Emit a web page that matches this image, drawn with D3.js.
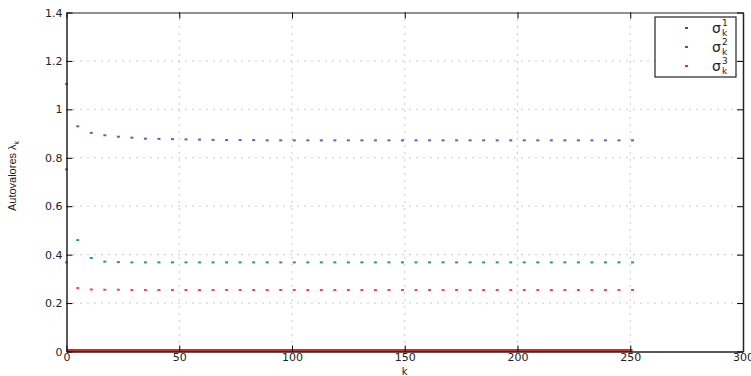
<!DOCTYPE html>
<html>
<head>
<meta charset="utf-8">
<script src="https://cdn.jsdelivr.net/npm/d3@7"></script>
<style>
  body { margin: 0; background: #fff; }
  svg { display: block; font-family: 'DejaVu Sans', sans-serif; }
</style>
</head>
<body>
<div id="chart"></div>
<script>
// k positions of the plotted samples
const kValues = [0, 5, 11, 17, 23, 29, 35, 41, 47, 53, 59, 65, 71, 77, 83, 89, 95, 101, 107, 113,
  119, 125, 131, 137, 143, 149, 155, 161, 167, 173, 179, 185, 191, 197, 203, 209, 215, 221, 227,
  233, 239, 245, 251];

// eigenvalue series
const sigma1 = [0.752, 0.930, 0.903, 0.893, 0.887, 0.883, 0.879, 0.878, 0.877, 0.876, 0.875, 0.874,
  0.873, 0.873, 0.873, 0.872, 0.872, 0.872, 0.872, 0.872, 0.872, 0.872, 0.872, 0.872, 0.872, 0.872,
  0.872, 0.872, 0.872, 0.872, 0.872, 0.872, 0.872, 0.872, 0.872, 0.872, 0.872, 0.872, 0.872, 0.872,
  0.872, 0.872, 0.872];
const sigma2 = [1.105, 0.460, 0.386, 0.371, 0.369, 0.368, 0.368, 0.368, 0.368, 0.368, 0.368, 0.368,
  0.368, 0.368, 0.368, 0.368, 0.368, 0.368, 0.368, 0.368, 0.368, 0.368, 0.368, 0.368, 0.368, 0.368,
  0.368, 0.368, 0.368, 0.368, 0.368, 0.368, 0.368, 0.368, 0.368, 0.368, 0.368, 0.368, 0.368, 0.368,
  0.368, 0.368, 0.368];
const sigma3 = [0.368, 0.262, 0.256, 0.255, 0.255, 0.254, 0.254, 0.254, 0.254, 0.254, 0.254, 0.254,
  0.254, 0.254, 0.254, 0.254, 0.254, 0.254, 0.254, 0.254, 0.254, 0.254, 0.254, 0.254, 0.254, 0.254,
  0.254, 0.254, 0.254, 0.254, 0.254, 0.254, 0.254, 0.254, 0.254, 0.254, 0.254, 0.254, 0.254, 0.254,
  0.254, 0.254, 0.254];
// red trace lying on the x axis
const zeroLine = [0, 251];

const xTicks = [0, 50, 100, 150, 200, 250, 300];
const yTicks = [0, 0.2, 0.4, 0.6, 0.8, 1, 1.2, 1.4];
const seriesNames = ['1', '2', '3'];
const seriesColors = ['#2f4fb4', '#008c48', '#ee2a2a'];

const width = 751, height = 376;
const margin = { top: 12.5, right: 8, bottom: 24.5, left: 66.5 };
const innerW = width - margin.left - margin.right;
const innerH = height - margin.top - margin.bottom;

const svg = d3.select('#chart').append('svg')
  .attr('width', width)
  .attr('height', height);

const g = svg.append('g')
  .attr('transform', `translate(${margin.left},${margin.top})`);

const x = d3.scaleLinear().domain([0, 300]).range([0, innerW]);
const y = d3.scaleLinear().domain([0, 1.4]).range([innerH, 0]);

// grid
g.append('g').selectAll('line')
  .data(xTicks.slice(1, -1))
  .enter().append('line')
  .attr('x1', d => x(d)).attr('x2', d => x(d))
  .attr('y1', 0).attr('y2', innerH)
  .attr('stroke', '#999').attr('stroke-width', 1)
  .attr('stroke-dasharray', '1,6');
g.append('g').selectAll('line')
  .data(yTicks.slice(1, -1))
  .enter().append('line')
  .attr('x1', 0).attr('x2', innerW)
  .attr('y1', d => y(d)).attr('y2', d => y(d))
  .attr('stroke', '#999').attr('stroke-width', 1)
  .attr('stroke-dasharray', '1,6');

// red trace on the axis
g.append('line')
  .attr('x1', x(zeroLine[0])).attr('x2', x(zeroLine[1]))
  .attr('y1', y(0) - 1).attr('y2', y(0) - 1)
  .attr('stroke', '#d42a2a').attr('stroke-width', 3);

// dots
const allSeries = [sigma1, sigma2, sigma3];
allSeries.forEach((vals, si) => {
  g.append('g').selectAll('rect')
    .data(vals.map((v, i) => ({ k: kValues[i], v })))
    .enter().append('rect')
    .attr('x', d => x(d.k) - 1.5)
    .attr('y', d => y(d.v) - 1)
    .attr('width', 3)
    .attr('height', 2)
    .attr('fill', seriesColors[si])
    .attr('fill-opacity', 0.85);
});

// axes (MATLAB style: box, inward ticks on all sides)
const tickLen = 6;
const tickFont = a => a.selectAll('text')
  .attr('font-size', 11).attr('fill', '#222')
  .attr('font-family', "'DejaVu Sans', sans-serif");
g.append('g')
  .attr('transform', `translate(0,${innerH})`)
  .call(d3.axisBottom(x).tickValues(xTicks).tickSizeInner(-tickLen).tickSizeOuter(0).tickPadding(2))
  .call(a => a.select('.domain').attr('stroke', '#222').attr('stroke-width', 1.5))
  .call(tickFont);
g.append('g')
  .call(d3.axisTop(x).tickValues(xTicks).tickSizeInner(-tickLen).tickSizeOuter(0).tickFormat(''))
  .call(a => a.select('.domain').attr('stroke', '#222').attr('stroke-width', 1.2));
g.append('g')
  .call(d3.axisLeft(y).tickValues(yTicks).tickSizeInner(-tickLen).tickSizeOuter(0).tickPadding(4)
    .tickFormat(d => d3.format('~g')(d)))
  .call(a => a.select('.domain').attr('stroke', '#222').attr('stroke-width', 1.5))
  .call(tickFont);
g.append('g')
  .attr('transform', `translate(${innerW},0)`)
  .call(d3.axisRight(y).tickValues(yTicks).tickSizeInner(-tickLen).tickSizeOuter(0).tickFormat(''))
  .call(a => a.select('.domain').attr('stroke', '#222').attr('stroke-width', 1.5));

// axis labels
svg.append('text')
  .attr('x', margin.left + x(150))
  .attr('y', 375)
  .attr('text-anchor', 'middle')
  .attr('font-size', 10)
  .attr('fill', '#222')
  .text('k');

const yl = svg.append('text')
  .attr('transform', `translate(16,${margin.top + innerH / 2 - 6}) rotate(-90)`)
  .attr('text-anchor', 'middle')
  .attr('font-family', "'Liberation Sans Narrow', 'Liberation Sans', sans-serif")
  .attr('font-size', 11)
  .attr('fill', '#222');
yl.append('tspan').text('Autovalores λ');
yl.append('tspan').attr('font-size', 7).attr('dy', 3).text('k');

// legend
const lg = svg.append('g').attr('transform', 'translate(655,17)');
lg.append('rect')
  .attr('width', 81).attr('height', 60)
  .attr('fill', '#fff').attr('stroke', '#222').attr('stroke-width', 1.2);
const items = lg.selectAll('.item')
  .data(seriesNames)
  .enter().append('g')
  .attr('class', 'item')
  .attr('transform', (d, i) => `translate(0,${11 + i * 19})`);
items.append('rect')
  .attr('x', 30).attr('y', -1).attr('width', 3).attr('height', 2)
  .attr('fill', (d, i) => seriesColors[i]);
items.each(function(d) {
  const t = d3.select(this).append('text')
    .attr('x', 57).attr('y', 5)
    .attr('font-size', 14).attr('fill', '#222');
  t.append('tspan').text('σ');
  t.append('tspan').attr('x', 67).attr('dy', -7).attr('font-size', 9).text(d);
  t.append('tspan').attr('x', 67).attr('dy', 10).attr('font-size', 9).text('k');
});
</script>
</body>
</html>
